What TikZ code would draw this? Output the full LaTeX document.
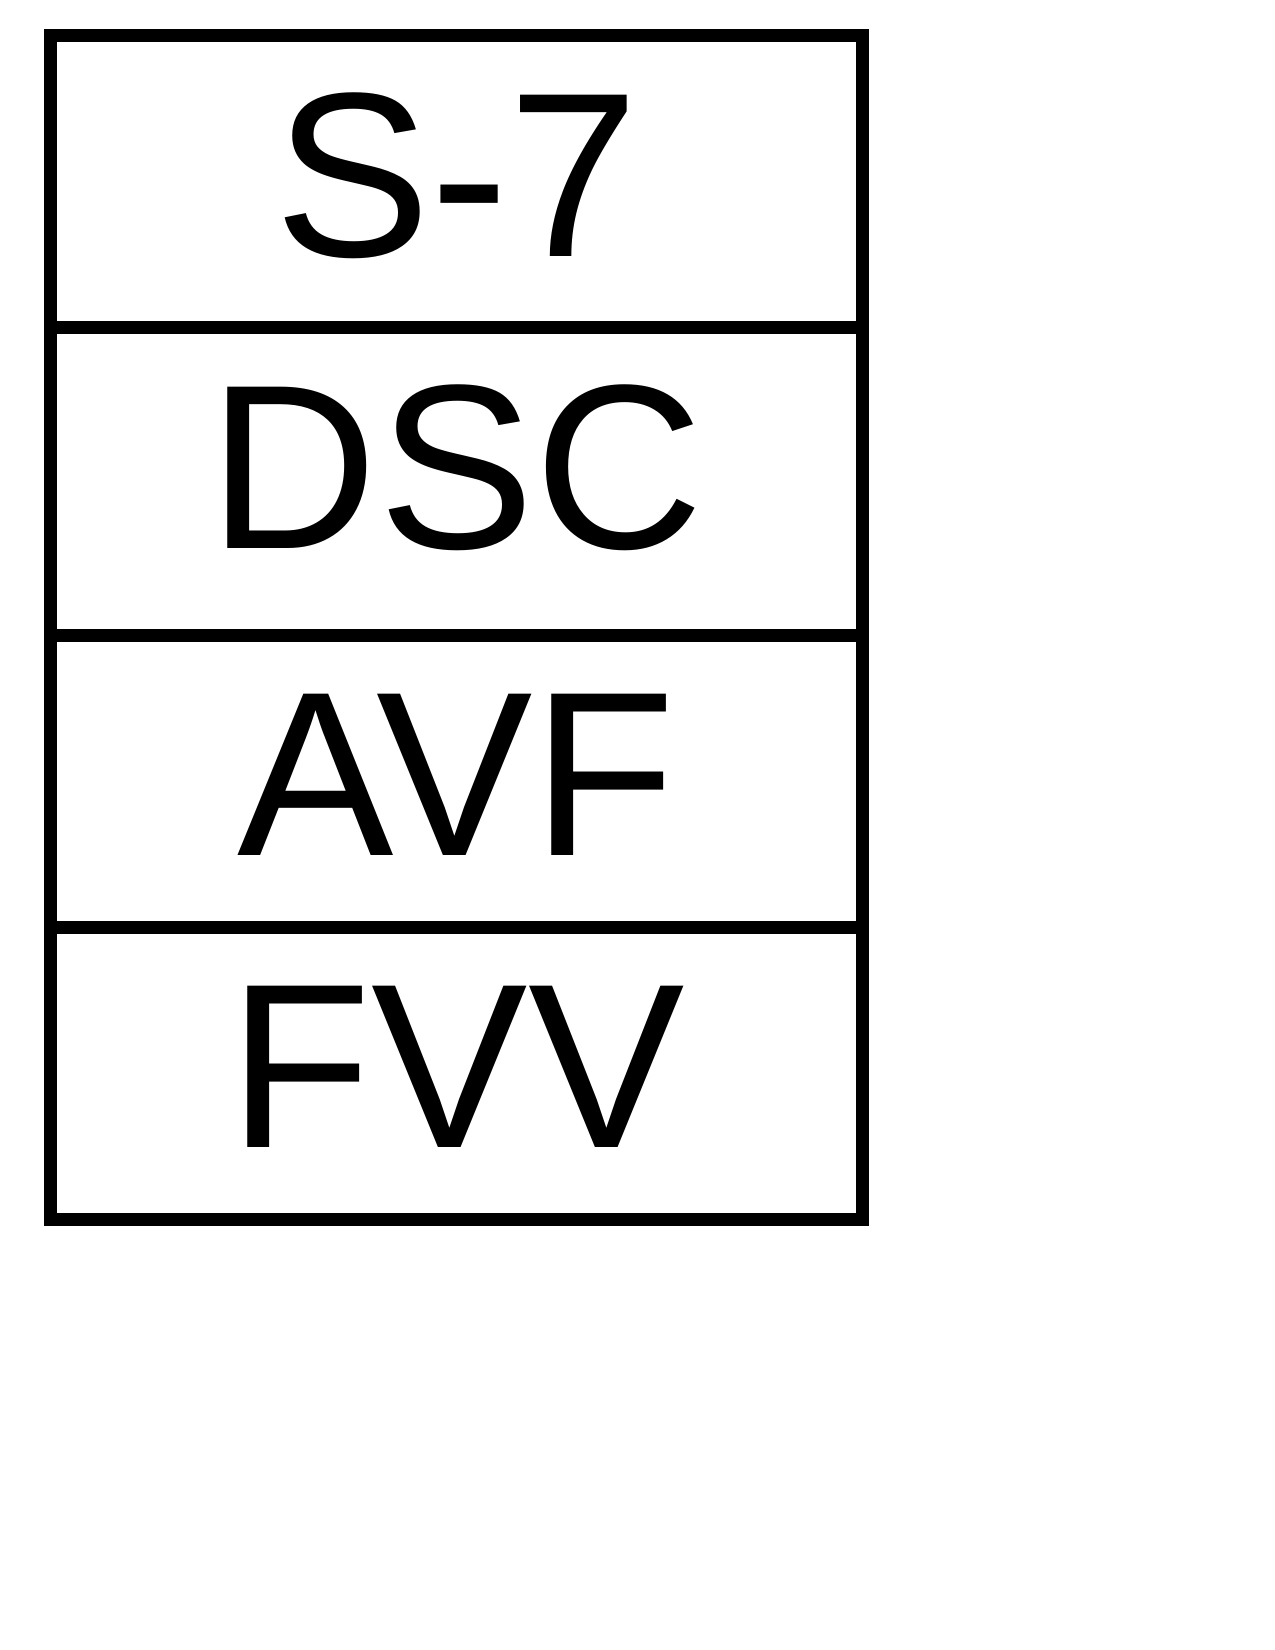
\documentclass[tikz,border=0pt]{standalone}
\usepackage{fontspec}
\setmainfont{Liberation Sans}
\usetikzlibrary{positioning}

\tikzset{
    cellline/.style={draw, line width=6.2pt, line join=miter},
    celltext/.style={anchor=base, inner sep=0pt, font=\fontsize{113}{130}\selectfont}
}

\begin{document}
\begin{tikzpicture}
    \useasboundingbox (0,0) rectangle (21.59,-27.94);

    % Define outer frame and dividers
    \draw[cellline] (0.85,-0.60) rectangle (14.61,-20.65);
    \foreach \y in {-5.54,-10.76,-15.70}
        \draw[cellline] (0.85,\y) -- (14.61,\y);

    % Labels
    \node[celltext] (s7) at (7.73,-4.34) {S-7};
    \node[celltext] (dsc) at (7.73,-9.28) {DSC};
    \node[celltext] (avf) at (7.73,-14.49) {AVF};
    \node[celltext] (fvv) at (7.73,-19.43) {FVV};
\end{tikzpicture}
\end{document}
